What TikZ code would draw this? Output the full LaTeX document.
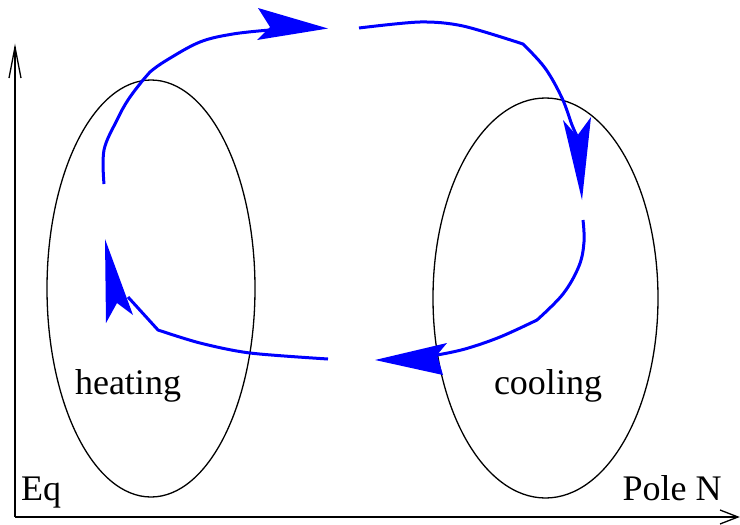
\documentclass[tikz,border=0pt]{standalone}
\usepackage{fontspec}
\setmainfont{Liberation Serif}
\begin{document}
\begin{tikzpicture}[x=1pt,y=-1pt,
  axis/.style={line width=1.3pt,black},
  ring/.style={line width=1.3pt,black},
  flow/.style={line width=3pt,blue,line join=round},
  head/.style={fill=blue,draw=none},
  lbl/.style={font=\fontsize{36}{40}\selectfont,anchor=base,inner sep=0pt}]
\useasboundingbox (0,0) rectangle (740,525);
% axes
\coordinate (O) at (15,517);
\coordinate (Ytip) at (15,47);
\coordinate (Xtip) at (738,517);
\draw[axis] (O) -- (Ytip);
\draw[axis] (O) -- (Xtip);
\draw[axis] (9,78) -- (Ytip) -- (21,78);
\draw[axis] (720,510) -- (Xtip) -- (720,524);
% ellipses
\draw[ring] (151,288.5) ellipse [x radius=104, y radius=208.5];
\draw[ring] (545.5,298) ellipse [x radius=112.5, y radius=200];
% flows
\draw[flow] plot[smooth,tension=0.6] coordinates {(104,184) (104,150) (117,120) (128,100) (143,80) (150,72) (167,60) (200,42) (233,34) (270,30)};
\draw[flow] plot[smooth,tension=0.5] coordinates {(359,28) (420,22) (463,26) (523,44)} -- plot[smooth,tension=0.6] coordinates {(523,44) (545,68) (562,98) (572,125) (577,136)};
\draw[flow] plot[smooth,tension=0.6] coordinates {(583,220) (584,242) (579,266) (563,294) (537,320)} -- plot[smooth,tension=0.6] coordinates {(537,320) (500,337) (465,349) (437,355)};
\draw[flow] plot[smooth,tension=0.5] coordinates {(328,359) (250,353) (200,343) (158,330)} -- (128,297);
% arrowheads
\fill[head] (328,28.5) -- (258,8) -- (270,27) -- (257,40) -- cycle;
\fill[head] (582,200) -- (563,120) -- (577,136) -- (591,117) -- cycle;
\fill[head] (375,360) -- (447,343) -- (437,355) -- (443,375) -- cycle;
\fill[head] (105,239) -- (133,315) -- (117,303) -- (106,323) -- cycle;
% labels
\node[lbl] (heat) at (128,394) {heating};
\node[lbl] (cool) at (548,394) {cooling};
\node[lbl] (eq) at (41,500) {Eq};
\node[lbl] (pole) at (672,500) {Pole N};
\end{tikzpicture}
\end{document}
